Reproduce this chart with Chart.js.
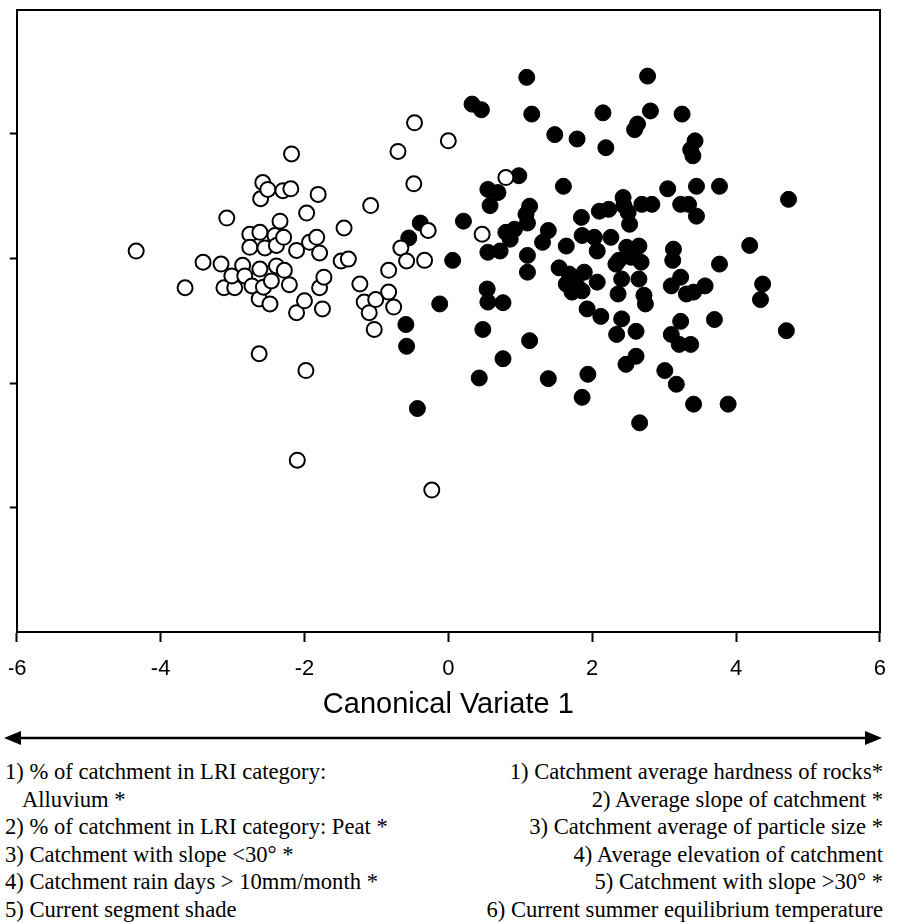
<!DOCTYPE html>
<html>
<head>
<meta charset="utf-8">
<script src="https://cdn.jsdelivr.net/npm/chart.js@4.4.0/dist/chart.umd.min.js"></script>
<style>
  html, body { margin: 0; padding: 0; background: #fff; }
  body { width: 900px; height: 922px; overflow: hidden; position: relative; }
  .plot { position: absolute; left: 9px; top: 0; width: 891px; height: 722px; overflow: hidden; }
  #cv { position: absolute; left: -16px; top: 0; }
  .arrow { position: absolute; left: 0; top: 728px; }
  .notes { position: absolute; top: 758px; left: 5px; right: 17px; height: 164px;
           font: 22.6px/27.6px "Liberation Serif", "Times New Roman", serif; color: #000; }
  .col-left { position: absolute; left: 0; top: 0; white-space: nowrap; }
  .col-right { position: absolute; right: 0; top: 0; text-align: right; white-space: nowrap; }
  .indent { padding-left: 17px; }
</style>
</head>
<body>
<div class="plot"><canvas id="cv" width="907" height="722"></canvas></div>

<svg class="arrow" width="900" height="20">
  <line x1="18" y1="10" x2="868" y2="10" stroke="#000" stroke-width="2.5"/>
  <polygon points="4,10 21,3 21,17" fill="#000"/>
  <polygon points="882,10 865,3 865,17" fill="#000"/>
</svg>

<div class="notes">
  <div class="col-left">
    <div>1) % of catchment in LRI category:</div>
    <div class="indent">Alluvium *</div>
    <div>2) % of catchment in LRI category: Peat *</div>
    <div>3) Catchment with slope &lt;30° *</div>
    <div>4) Catchment rain days &gt; 10mm/month *</div>
    <div>5) Current segment shade</div>
  </div>
  <div class="col-right">
    <div>1) Catchment average hardness of rocks*</div>
    <div>2) Average slope of catchment *</div>
    <div>3) Catchment average of particle size *</div>
    <div>4) Average elevation of catchment</div>
    <div>5) Catchment with slope &gt;30° *</div>
    <div>6) Current summer equilibrium temperature</div>
  </div>
</div>

<script>
// open circles (left group)
const openX = [-4.34,-3.66,-3.41,-3.16,-3.12,-2.97,-3.01,-3.08,-2.86,-2.83,
  -2.76,-2.76,-2.73,-2.62,-2.62,-2.63,-2.61,-2.58,-2.51,-2.57,
  -2.55,-2.48,-2.46,-2.41,-2.39,-2.39,-2.34,-2.30,-2.29,-2.28,
  -2.21,-2.19,-2.18,-2.11,-2.11,-2.00,-1.97,-1.93,-1.83,-1.81,
  -1.79,-1.79,-1.75,-1.73,-1.49,-1.45,-1.39,-1.23,-1.17,-1.10,
  -1.08,-1.03,-1.01,-0.83,-0.83,-0.76,-0.70,-0.66,-0.58,-0.48,
  -0.47,-0.33,-0.28,0.00,0.47,0.80,-2.63,-1.98,-2.10,-0.23];
const openY = [0.12,-0.47,-0.06,-0.09,-0.47,-0.47,-0.28,0.65,-0.11,-0.28,
  0.39,0.18,-0.44,0.42,-0.17,-0.65,0.96,1.22,1.11,-0.46,
  0.17,-0.73,-0.36,0.37,0.21,-0.12,0.60,1.09,0.34,-0.19,
  -0.42,1.12,1.68,0.13,-0.87,-0.68,0.73,0.26,0.34,1.03,
  0.09,-0.47,-0.81,-0.30,-0.04,0.49,-0.01,-0.41,-0.70,-0.87,
  0.85,-1.14,-0.66,-0.19,-0.54,-0.78,1.72,0.17,-0.04,1.20,
  2.18,-0.03,0.45,1.89,0.39,1.30,-1.53,-1.80,-3.24,-3.72];

// filled circles (right group)
const filledX = [-0.59,-0.58,-0.43,-0.12,-0.39,-0.55,0.06,0.21,0.33,0.46,
  0.55,0.69,0.58,0.48,0.43,0.54,0.55,0.76,0.76,0.55,
  0.72,0.80,0.92,0.86,0.98,1.09,1.16,1.13,1.08,1.10,
  1.10,1.10,1.13,1.31,1.39,1.39,1.48,1.79,1.60,1.64,
  1.54,1.68,1.64,1.78,1.89,2.07,1.72,1.86,1.93,2.12,
  1.86,2.03,2.26,1.85,2.10,2.23,2.07,2.15,2.19,2.63,
  2.59,2.81,2.77,3.25,3.43,3.37,3.40,2.43,2.44,2.50,
  2.52,2.69,2.83,3.05,3.45,3.77,3.23,3.34,3.45,2.37,
  2.48,2.65,2.54,2.68,3.13,3.12,4.19,3.77,2.33,2.41,
  2.65,2.36,2.72,2.74,3.10,3.23,3.31,3.41,3.57,4.37,
  4.34,2.41,2.34,2.61,3.70,3.23,3.10,3.21,3.37,4.70,
  2.61,2.47,3.01,3.17,1.94,1.86,3.41,3.89,2.66,4.73];
const filledY = [-1.06,-1.41,-2.41,-0.73,0.57,0.33,-0.03,0.60,2.48,2.39,
  1.11,1.06,0.85,-1.14,-1.92,-0.49,-0.70,-0.71,-1.61,0.10,
  0.12,0.42,0.47,0.31,1.33,2.91,2.32,0.84,0.71,0.57,
  0.05,-0.22,-1.32,0.26,0.45,-1.93,1.99,1.92,1.16,0.20,
  -0.15,-0.25,-0.41,-0.42,-0.22,-0.38,-0.54,-0.52,-0.81,-0.93,
  0.37,0.34,0.34,0.66,0.76,0.79,0.12,2.34,1.78,2.16,
  2.07,2.37,2.93,2.32,1.89,1.75,1.65,0.98,0.85,0.74,
  0.55,0.87,0.87,1.12,1.16,1.16,0.87,0.87,0.68,-0.03,
  0.18,0.20,0.02,-0.06,0.15,-0.03,0.21,-0.09,-0.09,-0.33,
  -0.33,-0.57,-0.59,-0.73,-0.44,-0.30,-0.57,-0.54,-0.44,-0.41,
  -0.66,-0.97,-1.22,-1.17,-0.98,-1.01,-1.22,-1.38,-1.38,-1.16,
  -1.57,-1.70,-1.80,-2.02,-1.86,-2.23,-2.34,-2.34,-2.64,0.95];

const xTicks = [-6, -4, -2, 0, 2, 4, 6];
const yTicks = [-4, -2, 0, 2];
const xTitle = 'Canonical Variate 1';

const toPoints = (xs, ys) => xs.map((x, i) => ({ x: x, y: ys[i] }));

const sansFont = '"Liberation Sans", Arial, sans-serif';

new Chart(document.getElementById('cv'), {
  type: 'scatter',
  data: {
    datasets: [
      {
        label: 'open',
        data: toPoints(openX, openY),
        pointRadius: 7.5,
        pointBorderWidth: 2,
        pointBorderColor: '#000',
        pointBackgroundColor: '#fff'
      },
      {
        label: 'filled',
        data: toPoints(filledX, filledY),
        pointRadius: 8,
        pointBorderWidth: 1,
        pointBorderColor: '#000',
        pointBackgroundColor: '#000'
      }
    ]
  },
  options: {
    responsive: false,
    animation: false,
    layout: { padding: { top: 6, right: 17, left: 0, bottom: 0 } },
    plugins: {
      legend: { display: false },
      tooltip: { enabled: false }
    },
    scales: {
      x: {
        type: 'linear',
        position: 'bottom',
        min: -6,
        max: 6,
        afterBuildTicks: s => { s.ticks = xTicks.map(v => ({ value: v })); },
        afterFit: s => { s.height = 90; },
        ticks: {
          color: '#000',
          font: { family: sansFont, size: 22 },
          padding: 14,
          maxRotation: 0,
          autoSkip: false
        },
        grid: { drawOnChartArea: false, tickLength: 10, tickWidth: 2, tickColor: '#000' },
        border: { color: '#000', width: 2 },
        title: {
          display: true,
          text: xTitle,
          color: '#000',
          font: { family: sansFont, size: 29 },
          padding: { top: 4, bottom: 0 }
        }
      },
      y: {
        type: 'linear',
        position: 'left',
        min: -6,
        max: 4,
        afterBuildTicks: s => { s.ticks = yTicks.map(v => ({ value: v })); },
        afterFit: s => { s.width = 20; },
        ticks: { display: false },
        grid: { drawOnChartArea: false, tickLength: 7, tickWidth: 2, tickColor: '#000' },
        border: { color: '#000', width: 2 }
      },
      x2: {
        type: 'linear',
        position: 'top',
        min: -6,
        max: 6,
        afterFit: s => { s.height = 0; },
        ticks: { display: false },
        grid: { display: false },
        border: { color: '#000', width: 2 }
      },
      y2: {
        type: 'linear',
        position: 'right',
        min: -6,
        max: 4,
        afterFit: s => { s.width = 0; },
        ticks: { display: false },
        grid: { display: false },
        border: { color: '#000', width: 2 }
      }
    }
  }
});
</script>
</body>
</html>
